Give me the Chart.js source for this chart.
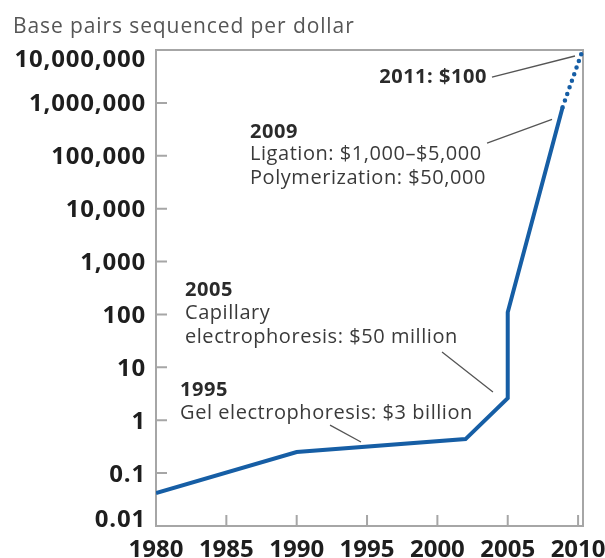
<!DOCTYPE html>
<html><head><meta charset="utf-8">
<script src="https://cdn.jsdelivr.net/npm/chart.js@4.4.0/dist/chart.umd.min.js"></script>
<style>html,body{margin:0;padding:0;background:#fff;}#wrap{width:605px;height:558px;}</style>
</head><body><div id="wrap"><canvas id="c" width="605" height="558"></canvas></div>
<script>
const titleText = 'Base pairs sequenced per dollar';
const years = [1980, 1990, 2002, 2005, 2005, 2008.9];
const basePairsPerDollar = [0.042, 0.25, 0.44, 2.6, 110, 830000];
const projectedYears = [2008.9, 2010.3];
const projectedBasePairs = [830000, 9500000];
const xTicks = [1980, 1985, 1990, 1995, 2000, 2005, 2010];
const yTicks = [0.01, 0.1, 1, 10, 100, 1000, 10000, 100000, 1000000, 10000000];
const yTickLabels = ['0.01', '0.1', '1', '10', '100', '1,000', '10,000', '100,000', '1,000,000', '10,000,000'];

const noteTexts = ['2011: $100', '2009', 'Ligation: $1,000–$5,000', 'Polymerization: $50,000',
  '2005', 'Capillary', 'electrophoresis: $50 million', '1995', 'Gel electrophoresis: $3 billion'];
const noteYears = [2003.53, 1986.68, 1986.68, 1986.68, 1982.06, 1982.06, 1982.06, 1981.71, 1981.71];
const noteValues = [3.08e6, 2.8e5, 1.08e5, 3.8e4, 289, 106, 37.4, 3.72, 1.37];
const noteBold = [true, true, false, false, true, false, false, true, false];
const noteRightAligned = [true, false, false, false, false, false, false, false, false];

const leaderFromYears = [2003.88, 2003.53, 2000.33, 1992.37];
const leaderFromValues = [3.08e6, 1.74e5, 19.5, 0.81];
const leaderToYears = [2009.78, 2008.15, 2003.95, 1994.57];
const leaderToValues = [7.7e6, 4.9e5, 3.41, 0.387];

const LINE = '#165ea5';
const FRAME = '#a6a6a6';

const decor = {
  id: 'decor',
  beforeDatasetsDraw(chart) {
    const { ctx, chartArea: a, scales: { x, y } } = chart;
    ctx.save();
    ctx.strokeStyle = FRAME;
    ctx.lineWidth = 2;
    ctx.strokeRect(a.left, a.top, a.right - a.left, a.bottom - a.top);
    ctx.beginPath();
    yTicks.forEach(v => {
      const py = y.getPixelForValue(v);
      if (py > a.top + 2 && py < a.bottom - 2) { ctx.moveTo(a.left, py); ctx.lineTo(a.left + 11, py); }
    });
    xTicks.forEach(v => {
      const px = x.getPixelForValue(v);
      if (px > a.left + 2) { ctx.moveTo(px, a.bottom); ctx.lineTo(px, a.bottom - 11); }
    });
    ctx.stroke();
    // y tick labels
    ctx.fillStyle = '#1e1e1e';
    ctx.font = 'bold 24px "Open Sans"';
    ctx.textAlign = 'right';
    ctx.textBaseline = 'alphabetic';
    try { ctx.letterSpacing = '0.8px'; } catch (e) {}
    yTicks.forEach((v, i) => {
      let b = y.getPixelForValue(v) + 8.5;
      b = Math.max(a.top + 17, Math.min(a.bottom + 1, b));
      ctx.fillText(yTickLabels[i], a.left - 10, b);
    });
    // title
    try { ctx.letterSpacing = '0.9px'; } catch (e) {}
    ctx.textAlign = 'left';
    ctx.fillStyle = '#555';
    ctx.font = '21px "Open Sans"';
    ctx.fillText(titleText, 13, 33);
    ctx.restore();
  },
  afterDatasetsDraw(chart) {
    const { ctx, scales: { x, y } } = chart;
    ctx.save();
    ctx.strokeStyle = '#555';
    ctx.lineWidth = 1.3;
    ctx.beginPath();
    leaderFromYears.forEach((yr, i) => {
      ctx.moveTo(x.getPixelForValue(yr), y.getPixelForValue(leaderFromValues[i]));
      ctx.lineTo(x.getPixelForValue(leaderToYears[i]), y.getPixelForValue(leaderToValues[i]));
    });
    ctx.stroke();
    ctx.textBaseline = 'middle';
    try { ctx.letterSpacing = '0.55px'; } catch (e) {}
    noteTexts.forEach((t, i) => {
      ctx.font = (noteBold[i] ? 'bold ' : '') + '20px "Open Sans"';
      ctx.fillStyle = noteBold[i] ? '#2a2a2a' : '#3a3a3a';
      ctx.textAlign = noteRightAligned[i] ? 'right' : 'left';
      ctx.fillText(t, x.getPixelForValue(noteYears[i]), y.getPixelForValue(noteValues[i]));
    });
    ctx.restore();
  }
};

new Chart(document.getElementById('c'), {
  type: 'line',
  data: {
    datasets: [
      {
        data: years.map((yr, i) => ({ x: yr, y: basePairsPerDollar[i] })),
        borderColor: LINE, borderWidth: 4, pointRadius: 0, tension: 0, fill: false
      },
      {
        data: projectedYears.map((yr, i) => ({ x: yr, y: projectedBasePairs[i] })),
        borderColor: LINE, borderWidth: 4.5, pointRadius: 0, tension: 0, fill: false,
        borderDash: [0, 7], borderCapStyle: 'round', clip: false
      }
    ]
  },
  options: {
    responsive: false,
    animation: false,
    devicePixelRatio: 1,
    layout: { padding: { top: 50, right: 22, left: 0, bottom: 0 } },
    plugins: { legend: { display: false }, tooltip: { enabled: false }, title: { display: false } },
    scales: {
      x: {
        type: 'linear', min: 1980, max: 2010.35,
        afterBuildTicks: s => { s.ticks = xTicks.map(v => ({ value: v })); },
        ticks: {
          font: { family: 'Open Sans', weight: 'bold', size: 24 }, color: '#1e1e1e',
          padding: 10, maxRotation: 0, autoSkip: false, callback: v => String(v)
        },
        grid: { display: false, drawTicks: false },
        border: { display: false },
        afterFit: s => { s.height = 32; s.paddingLeft = 0; s.paddingRight = 0; }
      },
      y: {
        type: 'logarithmic', min: 0.01, max: 10000000,
        afterBuildTicks: s => { s.ticks = yTicks.map(v => ({ value: v })); },
        ticks: { display: false },
        grid: { display: false, drawTicks: false },
        border: { display: false },
        afterFit: s => { s.width = 156; s.paddingTop = 0; s.paddingBottom = 0; }
      }
    }
  },
  plugins: [decor]
});
</script>
</body></html>
